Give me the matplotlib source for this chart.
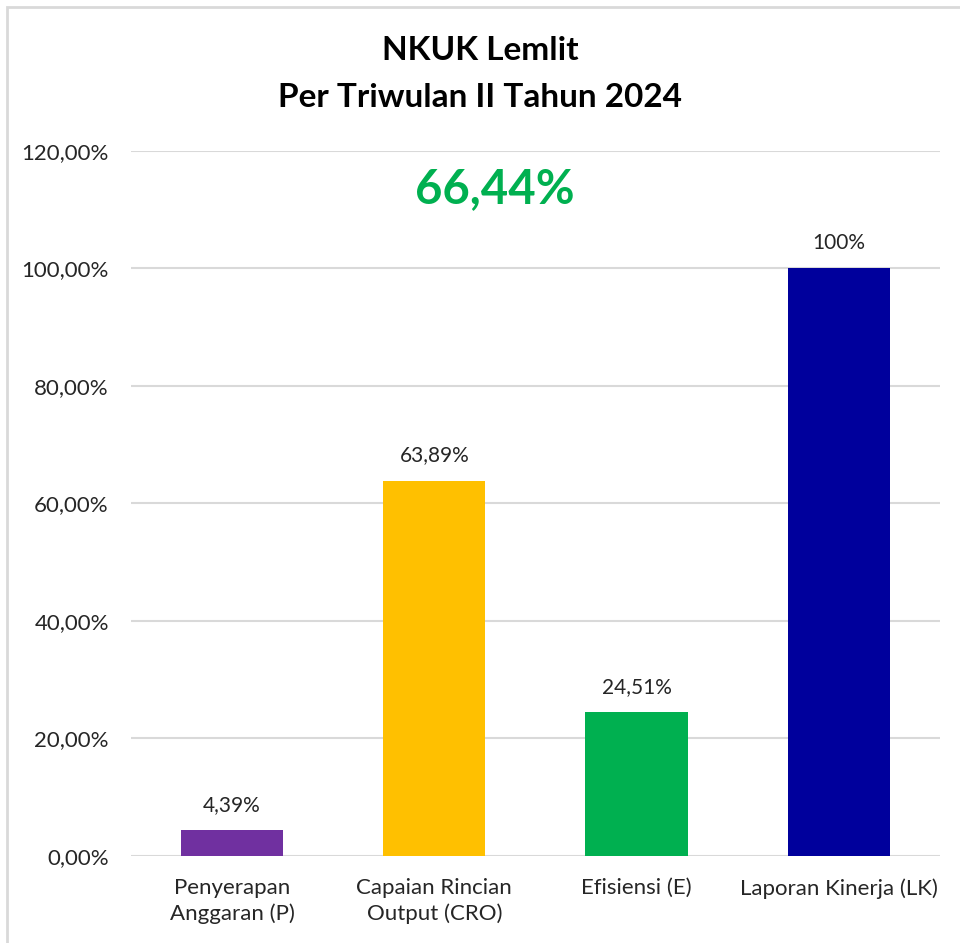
#!/usr/bin/env python3
"""NKUK Lemlit bar chart, Triwulan II 2024."""

import matplotlib

matplotlib.use("Agg")
import matplotlib.pyplot as plt
from matplotlib.patches import Rectangle

plt.rcParams["font.family"] = ["Lato", "DejaVu Sans"]

CATEGORIES = ["Penyerapan\nAnggaran (P)", "Capaian Rincian\nOutput (CRO)", "Efisiensi (E)", "Laporan Kinerja (LK)"]
VALUES = [4.39, 63.89, 24.51, 100.0]
VALUE_LABELS = ["4,39%", "63,89%", "24,51%", "100%"]
COLORS = ["#7030A0", "#FFC000", "#00B050", "#00009C"]
Y_TICKS = [0, 20, 40, 60, 80, 100, 120]
TOTAL_LABEL = "66,44%"
TITLE = "NKUK Lemlit\nPer Triwulan II Tahun 2024"

fig = plt.figure(figsize=(9.6, 9.43), dpi=100)
fig.patch.set_facecolor("white")
# outer chart border (left/top visible, rest cropped off)
fig.patches.append(Rectangle((7 / 960, -0.1), 1.2, 1 - 7 / 943 + 0.1, transform=fig.transFigure,
                             fill=False, edgecolor="#D9D9D9", lw=2))

ax = fig.add_axes([0.1365, 0.0923, 0.8425, 0.7476])
x = list(range(len(CATEGORIES)))
ax.bar(x, VALUES, width=0.505, color=COLORS, zorder=3)
for xi, v, lab in zip(x, VALUES, VALUE_LABELS):
    ax.annotate(lab, (xi, v), xytext=(0, 11), textcoords="offset points",
                ha="center", va="bottom", fontsize=15, color="#262626")

ax.set_xlim(-0.5, 3.5)
ax.set_ylim(0, 120)
ax.set_yticks(Y_TICKS)
ax.set_yticklabels([f"{t:.2f}%".replace(".", ",") for t in Y_TICKS], fontsize=16, color="#262626")
ax.set_xticks(x)
ax.set_xticklabels(CATEGORIES, fontsize=16, color="#262626", linespacing=1.3)
ax.tick_params(length=0)
ax.tick_params(axis="y", pad=16)
ax.tick_params(axis="x", pad=16)
ax.grid(axis="y", color="#D9D9D9", lw=1.5, zorder=0)
for s in ax.spines.values():
    s.set_visible(False)

ax.text(1.3, 113.5, TOTAL_LABEL, ha="center", va="center", fontsize=34,
        fontweight="bold", color="#00B050")
fig.text(0.5, 1 - 74 / 943, TITLE, ha="center", va="center", fontsize=24,
         fontweight="bold", color="black", linespacing=1.75)

fig.savefig("out.png", dpi=100, facecolor="white")
